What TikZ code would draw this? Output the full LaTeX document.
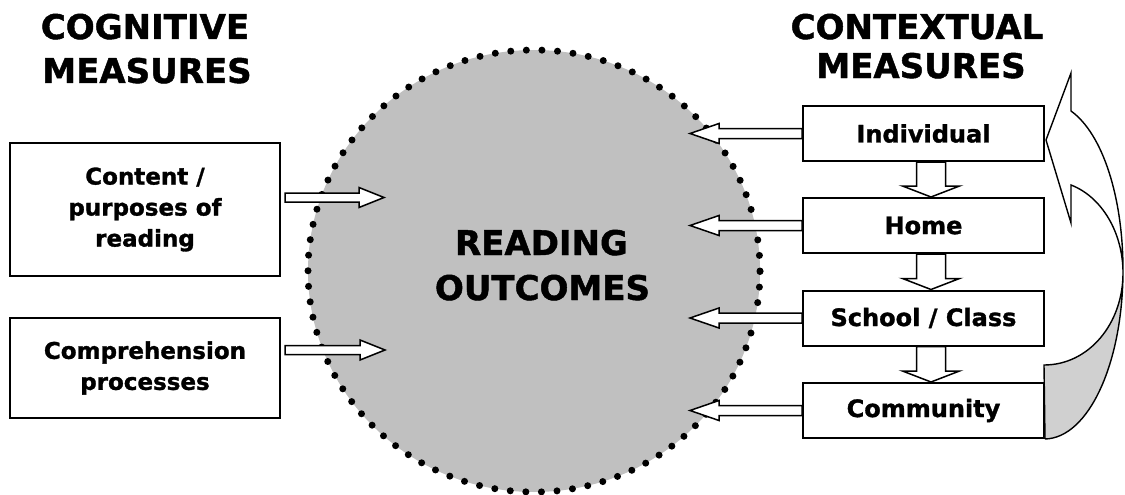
\documentclass[tikz,border=0pt]{standalone}
\usepackage{fontspec}
\setmainfont{DejaVu Sans}[BoldFeatures={FakeBold=1.3}]
\usetikzlibrary{shapes.geometric,calc}
\definecolor{circgray}{RGB}{192,192,192}
\definecolor{ribgray}{RGB}{208,208,208}
% left-pointing block arrow: #1 start node anchor, #2 tip
\newcommand\LArrow[2]{%
  \draw[blockarrow] let \p1=(#1), \p2=(#2) in
    (\x1,\y2+5) -- (\x2+29,\y2+5) -- (\x2+29,\y2+10) -- (\x2,\y2)
    -- (\x2+29,\y2-10) -- (\x2+29,\y2-5) -- (\x1,\y2-5) -- cycle;}
% right-pointing block arrow
\newcommand\RArrow[2]{%
  \draw[blockarrow] let \p1=(#1), \p2=(#2) in
    (\x1+4,\y2+4.5) -- (\x2-25,\y2+4.5) -- (\x2-25,\y2+10) -- (\x2,\y2)
    -- (\x2-25,\y2-10) -- (\x2-25,\y2-4.5) -- (\x1+4,\y2-4.5) -- cycle;}
% downward block arrow
\newcommand\DArrow[2]{%
  \draw[blockarrow] let \p1=(#1), \p2=(#2) in
    (\x1-14.5,\y1) -- (\x1-14.5,\y2+11) -- (\x1-28.5,\y2+11) -- (\x1,\y2)
    -- (\x1+28.5,\y2+11) -- (\x1+14.5,\y2+11) -- (\x1+14.5,\y1) -- cycle;}
\begin{document}
\begin{tikzpicture}[x=1pt,y=-1pt,
  bigtxt/.style={font=\bfseries\fontsize{34}{40}\selectfont, inner sep=0pt},
  boxbase/.style={draw=black, line width=2pt, fill=white, align=center, inner sep=0pt},
  lbox/.style={boxbase, minimum width=270pt, font=\bfseries\fontsize{23}{31}\selectfont},
  rbox/.style={boxbase, minimum width=241pt, minimum height=55pt,
     font=\bfseries\fontsize{24}{31}\selectfont},
  blockarrow/.style={draw=black, line width=1.5pt, fill=white, line join=miter},
  dotring/.style={ellipse, fill=circgray, draw=black, line width=7pt, line cap=round,
     dash pattern=on 0pt off 15.6pt, inner sep=0pt},
  ribline/.style={draw=black, line width=1.4pt, line join=miter}
]
\useasboundingbox (0,0) rectangle (1125,495);

% central outcome ellipse
\node[dotring, minimum width=452pt, minimum height=442pt] (ro) at (534,271) {};
\node[bigtxt, anchor=base] (ro1) at (541.5,255) {READING};
\node[bigtxt, anchor=base] (ro2) at (542.5,300) {OUTCOMES};

% headings
\node[bigtxt, anchor=base] (ttl1) at (145,39) {COGNITIVE};
\node[bigtxt, anchor=base] (ttl2) at (147,83) {MEASURES};
\node[bigtxt, anchor=base] (ttr1) at (917,39) {CONTEXTUAL};
\node[bigtxt, anchor=base] (ttr2) at (921,78) {MEASURES};

% left boxes
\node[lbox, minimum height=133pt] (cont) at (145,209.5) {Content /\\purposes of\\reading};
\node[lbox, minimum height=100pt] (comp) at (145,368) {Comprehension\\processes};

% right boxes
\node[rbox] (ind) at (923.5,133.5) {Individual};
\node[rbox] (home) at (923.5,225.5) {Home};
\node[rbox] (school) at (923.5,318) {School / Class};
\node[rbox] (comm) at (923.5,410.5) {Community};

% helper coordinates
\coordinate (tx) at (690,0);
\coordinate (dx) at (931,0);
\coordinate (t1) at (384,197.5);
\coordinate (t2) at (385,350);

% arrows into the outcomes
\RArrow{cont.east}{t1}
\RArrow{comp.east}{t2}
\LArrow{ind.west}{ind.west -| tx}
\LArrow{home.west}{home.west -| tx}
\LArrow{school.west}{school.west -| tx}
\LArrow{comm.west}{comm.west -| tx}

% downward arrows between contexts
\DArrow{ind.south -| dx}{home.north -| dx}
\DArrow{home.south -| dx}{school.north -| dx}
\DArrow{school.south -| dx}{comm.north -| dx}

% curved feedback arrow from Community to Individual
\coordinate (tip) at ($(ind.east)+(1,6.5)$);
\coordinate (cb) at (comm.south east);
\fill[ribgray] (1044,365) .. controls (1088.7,365) and (1123,323.8) .. (1123,273)
   -- (1123,270) .. controls (1123,362.8) and (1088.7,438) .. (cb) -- cycle;
\fill[white] (1123,270) .. controls (1123,198) and (1103,134) .. (1071,111)
   -- (1071,73) -- (tip) -- (1071,223) -- (1071,185)
   .. controls (1101.7,196.8) and (1123,232.5) .. (1123,273) -- cycle;
\draw[ribline] (cb) .. controls (1088.7,438) and (1123,362.8) .. (1123,270)
   .. controls (1123,198) and (1103,134) .. (1071,111)
   -- (1071,73) -- (tip) -- (1071,223) -- (1071,185)
   .. controls (1101.7,196.8) and (1123,232.5) .. (1123,273)
   .. controls (1123,323.8) and (1088.7,365) .. (1044,365) -- (cb);
\end{tikzpicture}
\end{document}
